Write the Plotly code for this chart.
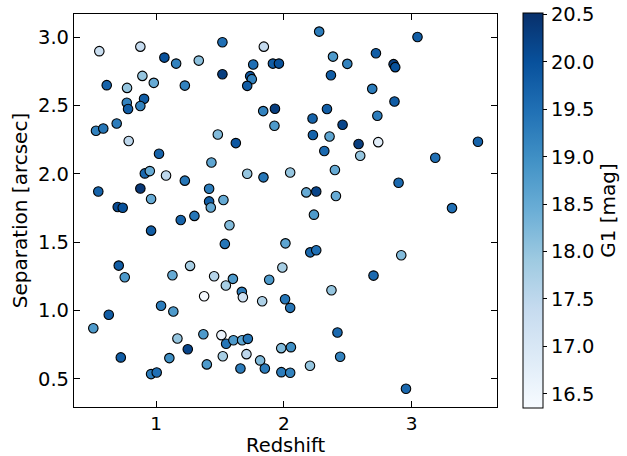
import plotly.graph_objects as go

redshift = [0.556, 0.877, 1.065, 1.157, 1.334, 1.519, 1.843, 1.760, 1.914, 1.961,
            0.614, 0.773, 0.893, 0.982, 1.225, 1.519, 1.736, 1.749, 1.713, 0.771,
            0.781, 0.906, 0.877, 0.530, 0.587, 0.692, 0.786, 1.838, 1.930, 1.926,
            1.483, 1.624, 1.023, 0.912, 0.951, 1.078, 1.225, 1.433, 1.713, 1.840,
            2.049, 0.548, 0.877, 0.961, 1.415, 1.415, 1.527, 0.700, 0.739, 1.428,
            2.276, 3.045, 2.384, 2.496, 2.720, 2.858, 2.871, 2.368, 2.691, 2.865,
            2.337, 2.224, 2.459, 2.731, 2.227, 2.357, 2.584, 2.738, 2.316, 2.597,
            3.518, 3.184, 2.399, 2.897, 2.175, 2.253, 2.407, 3.315, 1.193, 1.300,
            1.574, 0.961, 1.538, 2.012, 0.708, 0.755, 1.128, 1.266, 1.454, 1.601,
            1.546, 1.671, 1.679, 1.885, 1.988, 1.376, 1.830, 2.009, 2.049, 1.039,
            1.135, 0.630, 0.509, 1.167, 1.370, 1.511, 1.548, 1.605, 1.673, 1.718,
            1.979, 2.055, 1.248, 0.724, 1.104, 1.522, 1.707, 1.397, 1.814, 1.660,
            1.851, 0.961, 1.005, 1.980, 2.049, 2.235, 2.206, 2.253, 2.918, 2.701,
            2.372, 2.419, 2.440, 2.204, 2.955]

separation = [2.898, 2.931, 2.851, 2.807, 2.829, 2.963, 2.931, 2.800, 2.807, 2.807,
              2.649, 2.629, 2.717, 2.666, 2.646, 2.729, 2.715, 2.693, 2.644, 2.520,
              2.474, 2.549, 2.496, 2.315, 2.332, 2.368, 2.240, 2.459, 2.476, 2.352,
              2.288, 2.225, 2.147, 2.003, 2.020, 1.988, 1.950, 2.083, 2.001, 1.974,
              2.010, 1.871, 1.893, 1.816, 1.891, 1.798, 1.808, 1.757, 1.752, 1.754,
              3.041, 3.002, 2.858, 2.805, 2.883, 2.803, 2.781, 2.722, 2.622, 2.529,
              2.474, 2.405, 2.359, 2.425, 2.284, 2.273, 2.218, 2.232, 2.167, 2.132,
              2.235, 2.118, 2.028, 1.935, 1.864, 1.871, 1.838, 1.749, 1.662, 1.692,
              1.623, 1.584, 1.487, 1.491, 1.328, 1.243, 1.257, 1.326, 1.250, 1.231,
              1.182, 1.136, 1.096, 1.224, 1.314, 1.104, 1.067, 1.082, 1.019, 1.034,
              0.992, 0.968, 0.870, 0.795, 0.826, 0.819, 0.756, 0.782, 0.782, 0.792,
              0.724, 0.731, 0.716, 0.656, 0.651, 0.665, 0.680, 0.605, 0.634, 0.575,
              0.575, 0.534, 0.546, 0.548, 0.544, 1.701, 1.425, 1.440, 1.404, 1.255,
              1.148, 0.838, 0.661, 0.595, 0.427]

g1_mag = [17.3, 17.4, 20.0, 19.2, 18.1, 19.5, 17.4, 19.5, 19.8, 20.0,
          19.7, 18.0, 18.0, 18.5, 19.2, 20.3, 19.9, 19.2, 19.8, 19.2,
          19.8, 19.8, 19.2, 19.2, 19.4, 19.3, 17.5, 19.2, 20.3, 18.8,
          18.2, 19.9, 19.7, 19.6, 18.5, 17.5, 19.4, 18.6, 18.0, 19.4,
          18.0, 19.7, 20.4, 18.5, 19.3, 19.8, 18.5, 20.1, 20.0, 18.5,
          19.3, 19.8, 18.8, 19.2, 19.8, 20.3, 20.0, 19.8, 19.3, 19.8,
          19.8, 19.7, 20.2, 19.3, 19.7, 18.6, 20.3, 16.8, 19.6, 18.0,
          19.7, 19.5, 18.5, 19.6, 18.5, 20.2, 18.5, 19.5, 19.7, 19.4,
          18.2, 19.8, 19.4, 18.6, 19.8, 18.8, 18.5, 17.8, 17.6, 18.8,
          17.8, 19.3, 17.2, 18.8, 17.8, 16.4, 17.7, 19.4, 19.4, 19.3,
          18.8, 19.8, 18.8, 18.0, 18.8, 16.6, 19.4, 18.8, 18.6, 19.4,
          18.2, 19.0, 20.2, 19.8, 19.0, 17.8, 17.5, 18.8, 18.2, 19.3,
          19.3, 19.3, 19.5, 19.3, 19.2, 18.8, 19.6, 19.5, 18.2, 19.6,
          18.0, 19.6, 19.2, 18.0, 19.6]

x_ticks = [1, 2, 3]
y_ticks = [0.5, 1.0, 1.5, 2.0, 2.5, 3.0]
cbar_ticks = [16.5, 17.0, 17.5, 18.0, 18.5, 19.0, 19.5, 20.0, 20.5]

blues = ["#f7fbff", "#deebf7", "#c6dbef", "#9ecae1", "#6baed6",
         "#4292c6", "#2171b5", "#08519c", "#08306b"]
colorscale = [[i / (len(blues) - 1), c] for i, c in enumerate(blues)]

FONT = "DejaVu Sans"
FS = 20
TFS = 19.5

fig = go.Figure(go.Scatter(
    x=redshift, y=separation, mode="markers",
    marker=dict(
        size=9.5, color=g1_mag, colorscale=colorscale, cmin=16.35, cmax=20.515,
        line=dict(color="black", width=1.1), opacity=1,
        colorbar=dict(
            title=dict(text="G1 [mag]", side="right", font=dict(family=FONT, size=FS, color="black")),
            thickness=20, lenmode="pixels", len=395, x=1.0615, xanchor="left", xpad=0,
            y=0.5, yanchor="middle", ypad=0, outlinewidth=1, outlinecolor="black",
            tickvals=cbar_ticks, ticktext=[f"{v:.1f}" for v in cbar_ticks],
            ticks="outside", ticklen=4, tickwidth=1, tickcolor="black",
            tickfont=dict(family=FONT, size=TFS, color="black"),
        ),
    ),
    showlegend=False,
))

axis_common = dict(
    showline=True, linecolor="black", linewidth=1.2, mirror="ticks",
    ticks="inside", ticklen=6, tickwidth=1.2, tickcolor="black",
    showgrid=False, zeroline=False,
)

plot_h = 456 - 14 - 49

fig.update_layout(
    width=627, height=456,
    margin=dict(l=74, r=130, t=14, b=49, autoexpand=False),
    plot_bgcolor="white", paper_bgcolor="white",
    font=dict(family=FONT, size=FS, color="black"),
    xaxis=dict(range=[0.358, 3.667], tickvals=x_ticks, ticktext=[str(v) for v in x_ticks],
               tickfont=dict(family=FONT, size=18.5, color="black"), **axis_common),
    yaxis=dict(range=[0.293, 3.170], tickvals=y_ticks, ticktext=[f"{v:.1f}" for v in y_ticks],
               tickfont=dict(family=FONT, size=TFS, color="black"),
               title=dict(text="Separation [arcsec]", standoff=4, font=dict(family=FONT, size=FS)), **axis_common),
    annotations=[dict(
        text="Redshift", xref="paper", yref="paper", x=0.5, y=-38 / plot_h,
        xanchor="center", yanchor="middle", showarrow=False, borderpad=0,
        font=dict(family=FONT, size=19.5, color="black"),
    )],
)

fig.write_html("out.html")
